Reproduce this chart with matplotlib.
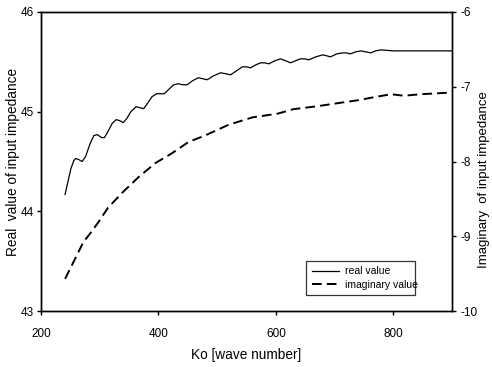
import matplotlib
matplotlib.use("Agg")
import matplotlib.pyplot as plt

plt.rcParams['font.family'] = ['Liberation Sans', 'DejaVu Sans']

# Real value of input impedance (left axis)
real_k = [241, 246, 251, 256, 259, 264, 270, 276, 283, 290, 296, 303, 308,
          314, 321, 328, 334, 340, 346, 353, 362, 368, 375, 381, 389, 397,
          404, 410, 417, 426, 434, 441, 449, 458, 468, 476, 483, 494, 506,
          515, 523, 533, 543, 550, 557, 566, 574, 581, 588, 598, 608, 617,
          625, 633, 642, 649, 656, 668, 680, 687, 693, 704, 714, 720, 727,
          736, 745, 753, 762, 770, 779, 800, 850, 900]
real_v = [44.17, 44.30, 44.43, 44.51, 44.53, 44.52, 44.50, 44.55, 44.67, 44.76,
          44.77, 44.74, 44.74, 44.80, 44.88, 44.92, 44.91, 44.89, 44.93, 45.00,
          45.05, 45.04, 45.03, 45.08, 45.15, 45.18, 45.18, 45.18, 45.22, 45.27,
          45.28, 45.27, 45.27, 45.31, 45.34, 45.33, 45.32, 45.36, 45.39, 45.38,
          45.37, 45.41, 45.45, 45.45, 45.44, 45.47, 45.49, 45.49, 45.48, 45.51,
          45.53, 45.51, 45.49, 45.51, 45.53, 45.53, 45.52, 45.55, 45.57, 45.56,
          45.55, 45.58, 45.59, 45.59, 45.58, 45.60, 45.61, 45.60, 45.59, 45.61,
          45.62, 45.61, 45.61, 45.61]

# Imaginary value of input impedance (right axis)
imag_k = [241, 255, 272, 285, 297, 314, 338, 366, 395, 423, 451, 480, 519,
          560, 603, 630, 671, 705, 740, 767, 796, 818, 847, 893, 900]
imag_v = [-9.57, -9.35, -9.08, -8.95, -8.82, -8.62, -8.42, -8.21, -8.02, -7.89,
          -7.74, -7.65, -7.51, -7.41, -7.36, -7.30, -7.26, -7.22, -7.18, -7.14,
          -7.10, -7.12, -7.10, -7.08, -7.07]

x_ticks = [200, 400, 600, 800]
left_ticks = [43, 44, 45, 46]
right_ticks = [-10, -9, -8, -7, -6]

fig = plt.figure(figsize=(4.92, 3.67), dpi=100)
ax = fig.add_axes([41/492, 1 - 311/367, 411/492, 299/367])
ax2 = ax.twinx()

l1, = ax.plot(real_k, real_v, color='black', lw=0.9, label='real value')
l2, = ax2.plot(imag_k, imag_v, color='black', lw=1.4, dashes=(5, 2.6),
               label='imaginary value')

ax.set_xlim(200, 900)
ax.set_ylim(43, 46)
ax2.set_ylim(-10, -6)
ax.set_xticks(x_ticks)
ax.set_yticks(left_ticks)
ax2.set_yticks(right_ticks)
ax2.set_yticklabels([str(t) for t in right_ticks])

for a in (ax, ax2):
    for s in a.spines.values():
        s.set_linewidth(1.0)
        s.set_color('black')
ax.tick_params(axis='y', direction='out', length=3, width=1, labelsize=8.5, pad=2)
ax.tick_params(axis='x', direction='out', length=3, width=1, labelsize=8.5, pad=9)
ax2.tick_params(axis='y', direction='out', length=3, width=1, labelsize=8.5, pad=3)

ax.set_xlabel('Ko [wave number]', fontsize=9.8)
ax.xaxis.set_label_coords(0.5, -0.125)
ax.set_ylabel('Real  value of input impedance', fontsize=9.8)
ax.yaxis.set_label_coords(-0.05, 0.5)
ax2.set_ylabel('Imaginary  of input impedance', fontsize=9.5)
ax2.yaxis.set_label_coords(1.064, 0.44)

leg = ax.legend(handles=[l1, l2], loc='lower left',
                bbox_to_anchor=(0.633, 0.037, 0.29, 0.15), mode='expand',
                fontsize=7.5, frameon=True, fancybox=False, handlelength=2.6,
                borderpad=0.5, labelspacing=0.3, handletextpad=0.6)
leg.get_frame().set_edgecolor('black')
leg.get_frame().set_linewidth(0.9)

fig.savefig('out.png', dpi=100)
